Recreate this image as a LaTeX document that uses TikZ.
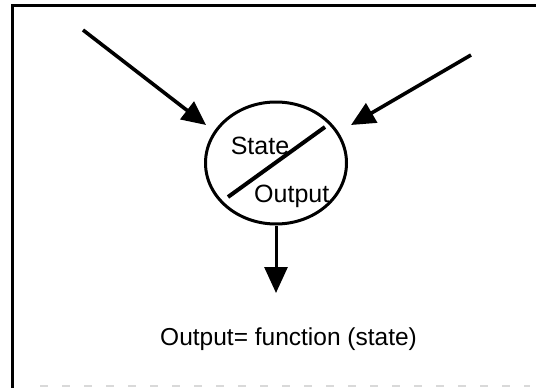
\documentclass[tikz,border=0pt]{standalone}
\usepackage{fontspec}
\setmainfont{Liberation Sans}
\usetikzlibrary{arrows.meta,shapes.geometric}
\begin{document}
\begin{tikzpicture}[x=1pt,y=-1pt,
  arr/.style={line width=3.6pt,-{Triangle[length=24pt,width=22pt]}},
  lbl/.style={inner sep=0pt,font=\fontsize{25}{28}\selectfont},
  captext/.style={inner sep=0pt,font=\fontsize{24.5}{28}\selectfont}]
\useasboundingbox (0,0) rectangle (536,388);
% frame
\draw[line width=3pt] (536,5) -- (12,5) -- (12,388);
\draw[black!15,line width=1.5pt,dash pattern=on 8pt off 14pt] (40,386) -- (530,386);
% state machine ellipse
\node[ellipse,draw,line width=3pt,minimum width=141pt,minimum height=122pt,inner sep=0pt] (sm) at (276,163) {};
\coordinate (d1) at (228,197);
\coordinate (d2) at (325,127);
\draw[line width=4pt] (d1) -- (d2);
\node[lbl,anchor=base] (st) at (260,154) {State};
\node[lbl,anchor=base west] (out) at (254,202) {Output};
% input arrows
\coordinate (in1) at (83,30);
\coordinate (t1) at (206,125);
\coordinate (in2) at (471,55);
\coordinate (t2) at (351,125);
\draw[arr] (in1) -- (t1);
\draw[arr] (in2) -- (t2);
% output arrow
\coordinate (t3) at (276,293);
\draw[line width=3pt,-{Triangle[length=26pt,width=23pt]}] (sm.south) -- (t3);
\node[captext,anchor=base west] (eq) at (160,345) {Output= function (state)};
\end{tikzpicture}
\end{document}
